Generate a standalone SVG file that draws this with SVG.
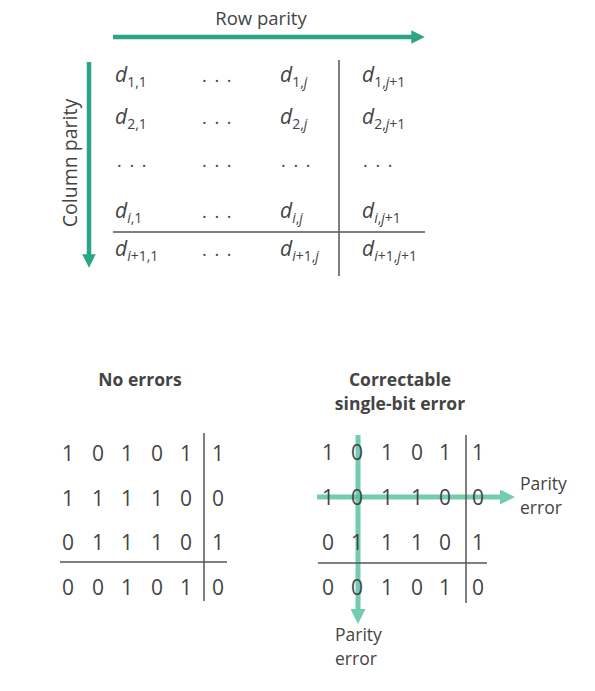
<svg xmlns="http://www.w3.org/2000/svg" width="595" height="691" viewBox="0 0 595 691">
<style>
.t{font-family:"Open Sans","Liberation Sans",sans-serif;fill:#444}
.d{font-size:21px;font-style:italic}
.s{font-size:14px;font-style:normal}
.i{font-style:italic}
.dots{font-size:18px;letter-spacing:1.5px}
.n{font-size:21px;text-anchor:middle}
.h{font-size:17.5px;font-weight:bold;text-anchor:middle}
.l{font-size:17.5px}
.ln{stroke:#555;stroke-width:1.5;fill:none}
</style>
<defs>
<marker id="ah" viewBox="0 0 10 10" refX="2" refY="5" markerWidth="3" markerHeight="3" orient="auto" markerUnits="strokeWidth"><path d="M0,0 L10,5 L0,10 z" fill="#2ba585"/></marker>
<marker id="ah2" viewBox="0 0 10 10" refX="2" refY="5" markerWidth="3" markerHeight="3" orient="auto" markerUnits="strokeWidth"><path d="M0,0 L10,5 L0,10 z" fill="#5cc4a2"/></marker>
</defs>
<rect width="595" height="691" fill="#fff"/>
<g id="connectors">
<line x1="113" y1="37" x2="414" y2="37" stroke="#2ba585" stroke-width="4.5" marker-end="url(#ah)"/>
<line x1="89" y1="62" x2="89" y2="257" stroke="#2ba585" stroke-width="4.5" marker-end="url(#ah)"/>
<line x1="358" y1="435" x2="358" y2="612" stroke="#5cc4a2" stroke-width="5" marker-end="url(#ah2)" opacity="0.85"/>
<line x1="317" y1="497" x2="503" y2="497" stroke="#5cc4a2" stroke-width="5" marker-end="url(#ah2)" opacity="0.85"/>
</g>
<g id="labels">
<text class="t" x="261" y="25" font-size="18.5" text-anchor="middle">Row parity</text>
<text class="t" transform="translate(77,163) rotate(-90)" font-size="19.5" text-anchor="middle">Column parity</text>
</g>
<g id="matrix">
<line class="ln" x1="339" y1="60" x2="339" y2="276"/>
<line class="ln" x1="113" y1="232" x2="425" y2="232"/>
<text class="t d" x="115" y="82">d<tspan class="s" dy="5">1,1</tspan></text>
<text class="t dots" x="202" y="82">. . .</text>
<text class="t d" x="280" y="82">d<tspan class="s" dy="5">1,<tspan class="i">j</tspan></tspan></text>
<text class="t d" x="362" y="82">d<tspan class="s" dy="5">1,<tspan class="i">j</tspan>+1</tspan></text>
<text class="t d" x="115" y="124">d<tspan class="s" dy="5">2,1</tspan></text>
<text class="t dots" x="202" y="124">. . .</text>
<text class="t d" x="280" y="124">d<tspan class="s" dy="5">2,<tspan class="i">j</tspan></tspan></text>
<text class="t d" x="362" y="124">d<tspan class="s" dy="5">2,<tspan class="i">j</tspan>+1</tspan></text>
<text class="t dots" x="117" y="167">. . .</text>
<text class="t dots" x="202" y="167">. . .</text>
<text class="t dots" x="281" y="167">. . .</text>
<text class="t dots" x="363" y="167">. . .</text>
<text class="t d" x="115" y="218">d<tspan class="s" dy="5"><tspan class="i">i</tspan>,1</tspan></text>
<text class="t dots" x="202" y="218">. . .</text>
<text class="t d" x="280" y="218">d<tspan class="s" dy="5"><tspan class="i">i</tspan>,<tspan class="i">j</tspan></tspan></text>
<text class="t d" x="362" y="218">d<tspan class="s" dy="5"><tspan class="i">i</tspan>,<tspan class="i">j</tspan>+1</tspan></text>
<text class="t d" x="115" y="256">d<tspan class="s" dy="5"><tspan class="i">i</tspan>+1,1</tspan></text>
<text class="t dots" x="202" y="256">. . .</text>
<text class="t d" x="280" y="256">d<tspan class="s" dy="5"><tspan class="i">i</tspan>+1,<tspan class="i">j</tspan></tspan></text>
<text class="t d" x="362" y="256">d<tspan class="s" dy="5"><tspan class="i">i</tspan>+1,<tspan class="i">j</tspan>+1</tspan></text>
</g>
<g id="no-errors">
<text class="t h" x="140" y="386">No errors</text>
<line class="ln" x1="204" y1="433" x2="204" y2="601"/>
<line class="ln" x1="60" y1="562" x2="227" y2="562"/>
<g class="t n">
<text x="68" y="461">1</text><text x="98" y="461">0</text><text x="127" y="461">1</text><text x="157" y="461">0</text><text x="186" y="461">1</text><text x="218" y="461">1</text>
<text x="68" y="506">1</text><text x="98" y="506">1</text><text x="127" y="506">1</text><text x="157" y="506">1</text><text x="186" y="506">0</text><text x="218" y="506">0</text>
<text x="68" y="550">0</text><text x="98" y="550">1</text><text x="127" y="550">1</text><text x="157" y="550">1</text><text x="186" y="550">0</text><text x="218" y="550">1</text>
<text x="68" y="595">0</text><text x="98" y="595">0</text><text x="127" y="595">1</text><text x="157" y="595">0</text><text x="186" y="595">1</text><text x="218" y="595">0</text>
</g>
</g>
<g id="single-bit-error">
<text class="t h" x="400" y="386">Correctable</text>
<text class="t h" x="400" y="410">single-bit error</text>
<line class="ln" x1="466" y1="435" x2="466" y2="603"/>
<line class="ln" x1="318" y1="563" x2="487" y2="563"/>
<g class="t n">
<text x="328" y="460">1</text><text x="357" y="460">0</text><text x="387" y="460">1</text><text x="417" y="460">0</text><text x="445" y="460">1</text><text x="478" y="460">1</text>
<text x="328" y="505">1</text><text x="357" y="505">0</text><text x="387" y="505">1</text><text x="417" y="505">1</text><text x="445" y="505">0</text><text x="478" y="505">0</text>
<text x="328" y="550">0</text><text x="357" y="550">1</text><text x="387" y="550">1</text><text x="417" y="550">1</text><text x="445" y="550">0</text><text x="478" y="550">1</text>
<text x="328" y="595">0</text><text x="357" y="595">0</text><text x="387" y="595">1</text><text x="417" y="595">0</text><text x="445" y="595">1</text><text x="478" y="595">0</text>
</g>
<text class="t l" x="520" y="490">Parity</text>
<text class="t l" x="520" y="514">error</text>
<text class="t l" x="335" y="641">Parity</text>
<text class="t l" x="335" y="665">error</text>
</g>
</svg>
